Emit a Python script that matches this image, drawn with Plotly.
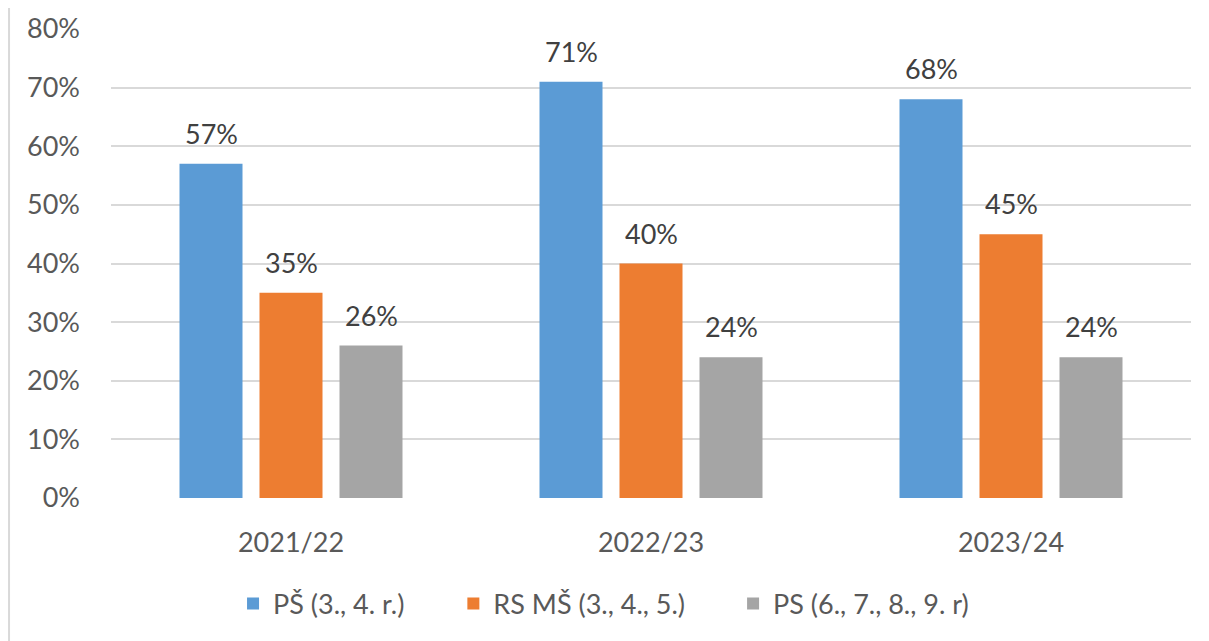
import plotly.graph_objects as go

categories = ["2021/22", "2022/23", "2023/24"]
series_names = ["PŠ (3., 4. r.)", "RS MŠ (3., 4., 5.)", "PS (6., 7., 8., 9. r)"]
ps_values = [57, 71, 68]
rs_values = [35, 40, 45]
pss_values = [26, 24, 24]
colors = ["#5B9BD5", "#ED7D31", "#A5A5A5"]
y_ticks = [0, 10, 20, 30, 40, 50, 60, 70, 80]

FONT = "Lato"
all_values = [ps_values, rs_values, pss_values]
xs = list(range(len(categories)))
legend_ids = ["legend", "legend2", "legend3"]
legend_x = [0.113, 0.317, 0.576]

fig = go.Figure()
for name, vals, col, lid in zip(series_names, all_values, colors, legend_ids):
    fig.add_trace(go.Bar(x=xs, y=vals, name=name, legend=lid,
                         marker=dict(color=col, line=dict(width=0))))

slot = (1 - 1/3) / 3
for j, vals in enumerate(all_values):
    for i, v in enumerate(vals):
        fig.add_annotation(x=i + (j - 1) * slot, y=v, text=f"{v}%", showarrow=False,
                           xref="x", yref="y", yanchor="bottom", yshift=12,
                           font=dict(family=FONT, size=27, color="#404040"))

fig.add_shape(type="line", xref="paper", yref="paper", x0=-0.0944, x1=-0.0944, y0=-1, y1=2,
              line=dict(color="#D9D9D9", width=2))

leg_common = dict(orientation="h", xanchor="left", y=-0.1735, yanchor="top",
                  font=dict(family=FONT, size=27, color="#595959"), itemwidth=30,
                  bgcolor="rgba(0,0,0,0)")

fig.update_layout(
    width=1209, height=641,
    margin=dict(l=103, r=26, t=21, b=151, autoexpand=False),
    paper_bgcolor="white", plot_bgcolor="white",
    barmode="group", bargap=1/3, bargroupgap=0.2125,
    font=dict(family=FONT, size=27, color="#595959"),
    xaxis=dict(tickmode="array", tickvals=xs, ticktext=categories, range=[-0.5, 2.5],
               showgrid=False, showline=False, zeroline=False, ticks="", ticklen=0,
               automargin=False, ticklabelstandoff=26),
    yaxis=dict(range=[0, 80], tickmode="array", tickvals=y_ticks,
               ticktext=[f"{t}%" for t in y_ticks], showgrid=True, gridcolor="#D9D9D9",
               gridwidth=1.5, zeroline=False, showline=False, ticks="", ticklabelstandoff=30,
               automargin=False),
    legend=dict(x=legend_x[0], **leg_common),
    legend2=dict(x=legend_x[1], **leg_common),
    legend3=dict(x=legend_x[2], **leg_common),
    showlegend=True,
)
fig.write_html("out.html")
